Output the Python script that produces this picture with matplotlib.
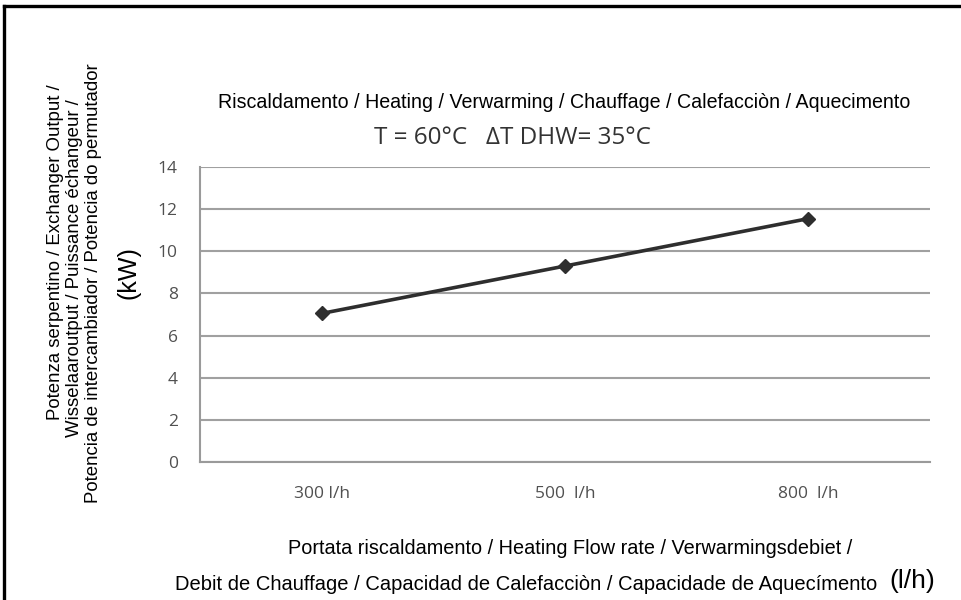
import matplotlib
matplotlib.use("Agg")
import matplotlib.pyplot as plt
from matplotlib.lines import Line2D

# Data
flow_labels = ["300 l/h", "500  l/h", "800  l/h"]
power_kw = [7.05, 9.3, 11.55]
y_ticks = [0, 2, 4, 6, 8, 10, 12, 14]

title_text = "Riscaldamento / Heating / Verwarming / Chauffage / Calefacciòn / Aquecimento"
subtitle_text = "T = 60°C   ΔT DHW= 35°C"
ylabel_lines = [
    "Potenza serpentino / Exchanger Output /",
    "Wisselaaroutput / Puissance échangeur /",
    "Potencia de intercambiador / Potencia do permutador",
]
ylabel_unit = "(kW)"
xlabel_line1 = "Portata riscaldamento / Heating Flow rate / Verwarmingsdebiet /"
xlabel_line2 = "Debit de Chauffage / Capacidad de Calefacciòn / Capacidade de Aquecímento"
xlabel_unit = "(l/h)"

W, H = 961, 600
fig = plt.figure(figsize=(W / 100, H / 100), dpi=100)
fig.patch.set_facecolor("white")

sans = ["Liberation Sans", "DejaVu Sans"]
soft = ["Open Sans", "Lato", "DejaVu Sans"]

ax = fig.add_axes([200 / W, 1 - 462 / H, 730 / W, 295 / H])
x = list(range(len(flow_labels)))
ax.plot(x, power_kw, color="#2e2e2e", lw=2.6, marker="D", ms=7.5,
        mfc="#2e2e2e", mec="#2e2e2e", zorder=3)
ax.set_xlim(-0.5, len(flow_labels) - 0.5)
ax.set_ylim(0, 14)
ax.set_yticks(y_ticks)
ax.set_yticklabels([str(t) for t in y_ticks], family=soft, fontsize=12.5,
                   color="#505050")
ax.set_xticks(x)
ax.set_xticklabels(flow_labels, family=soft, fontsize=12.5, color="#505050")
ax.tick_params(axis="both", length=0)
ax.tick_params(axis="y", pad=16)
ax.tick_params(axis="x", pad=17)
ax.grid(axis="y", color="#a0a0a0", lw=1.5)
ax.set_axisbelow(True)
for s in ["top", "right"]:
    ax.spines[s].set_visible(False)
for s in ["left", "bottom"]:
    ax.spines[s].set_color("#9a9a9a")
    ax.spines[s].set_linewidth(1.5)

# Titles
fig.text(564 / W, 1 - 102 / H, title_text, family=sans, fontsize=14.1,
         ha="center", va="center", color="black")
fig.text(513 / W, 1 - 138 / H, subtitle_text, family=soft, fontsize=17.5,
         ha="center", va="center", color="#333333")

# Rotated y label, one text per line
ycenters = [252, 268, 283]
xs = [56, 75, 94]
for line, xc, yc in zip(ylabel_lines, xs, ycenters):
    fig.text(xc / W, 1 - yc / H, line, family=sans, fontsize=13.4,
             rotation=90, ha="center", va="center", color="black")
fig.text(129 / W, 1 - 273 / H, ylabel_unit, family=sans, fontsize=18,
         rotation=90, ha="center", va="center", color="black")

# X label
fig.text(570 / W, 1 - 548 / H, xlabel_line1, family=sans, fontsize=14.3,
         ha="center", va="center", color="black")
fig.text(526 / W, 1 - 584 / H, xlabel_line2, family=sans, fontsize=14.5,
         ha="center", va="center", color="black")
fig.text(912 / W, 1 - 581 / H, xlabel_unit, family=sans, fontsize=19,
         ha="center", va="center", color="black")

# Frame lines along top and left edges
fig.add_artist(Line2D([4 / W, 1], [1 - 6 / H, 1 - 6 / H], color="black",
                      lw=2.4, transform=fig.transFigure))
fig.add_artist(Line2D([4 / W, 4 / W], [0, 1 - 6 / H], color="black",
                      lw=2.4, transform=fig.transFigure))

fig.savefig("out.png", dpi=100)
